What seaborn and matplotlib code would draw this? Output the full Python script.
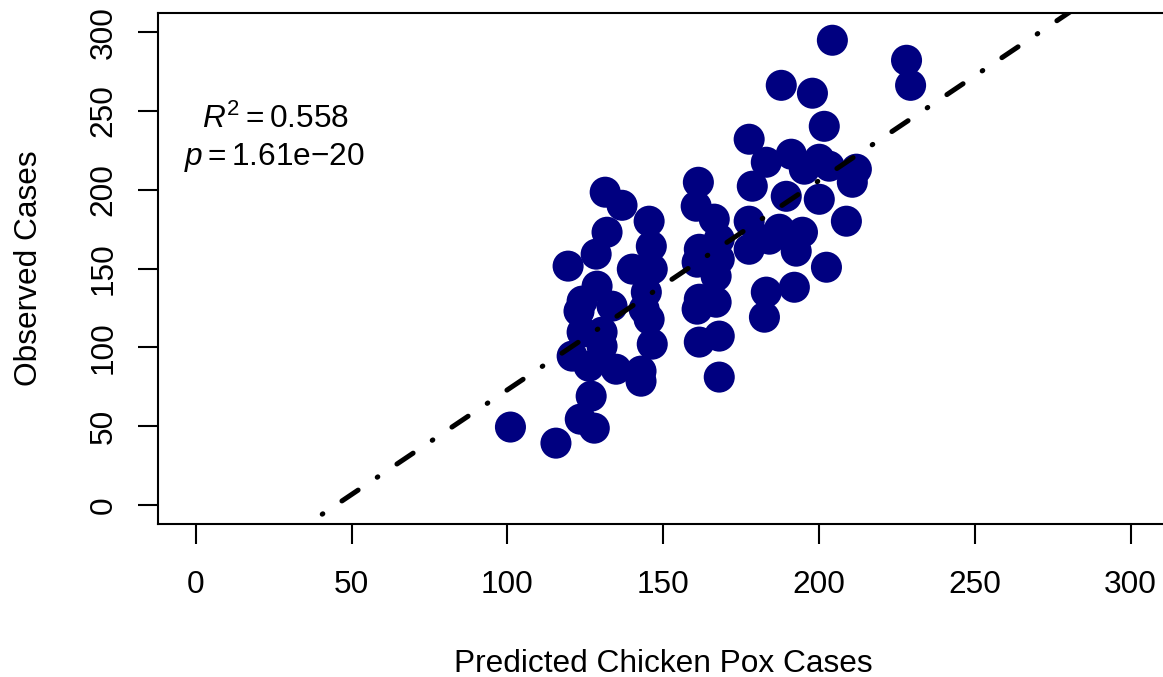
import numpy as np
import pandas as pd
import matplotlib
matplotlib.use("Agg")
import matplotlib.pyplot as plt
import seaborn as sns

# ---- data ----
predicted = [101.0, 115.6, 123.4, 127.9, 126.9,
             119.5, 128.5, 131.4, 136.8, 132.0,
             128.8, 124.0, 133.6, 124.0, 130.4, 120.8, 126.2, 134.9, 130.4, 123.0,
             145.5, 146.2, 140.1, 146.5, 144.6, 145.5, 146.5, 142.9, 142.9, 143.9,
             161.3, 160.6, 166.4, 161.6, 168.0, 168.0, 160.9, 167.0, 161.6, 167.0,
             160.9, 161.6, 168.0, 168.0,
             204.3, 228.1, 229.4, 187.9, 197.9, 201.7, 177.6, 183.1, 191.1, 200.1,
             203.3, 212.0, 210.7, 178.6, 189.5, 200.1, 208.8, 177.6, 184.1, 194.7,
             192.7, 177.6, 202.4, 192.1, 183.1, 182.5, 195.3, 187.3]
observed = [49.5, 39.3, 54.5, 48.8, 69.1,
            151.6, 159.2, 198.5, 190.2, 173.1,
            138.9, 129.4, 126.2, 109.7, 109.7, 94.5, 88.1, 86.2, 100.8, 123.0,
            180.1, 164.2, 149.7, 149.7, 135.1, 117.9, 102.1, 85.0, 78.6, 124.3,
            204.8, 189.6, 181.4, 162.3, 168.7, 156.0, 154.1, 145.2, 130.6, 128.7,
            124.3, 103.4, 107.2, 81.2,
            294.9, 282.2, 266.3, 266.3, 261.3, 240.3, 232.1, 217.5, 222.6, 219.4,
            215.0, 213.1, 204.8, 202.3, 195.9, 194.0, 180.1, 180.1, 168.7, 173.1,
            161.1, 162.3, 150.9, 138.2, 135.1, 119.2, 213.1, 175.0]
fit_intercept = -59.7
fit_slope = 1.328
r_squared = "0.558"
p_value = "1.61e{-}20"
x_ticks = [0, 50, 100, 150, 200, 250, 300]
y_ticks = [0, 50, 100, 150, 200, 250, 300]

df = pd.DataFrame({"Predicted": predicted, "Observed": observed})

sns.set_theme(style="white")
plt.rcParams['font.family'] = ['Liberation Sans', 'DejaVu Sans']
plt.rcParams['text.color'] = 'black'
plt.rcParams['axes.labelcolor'] = 'black'
plt.rcParams['mathtext.fontset'] = 'custom'
plt.rcParams['mathtext.rm'] = 'Liberation Sans'
plt.rcParams['mathtext.it'] = 'Liberation Sans:italic'
plt.rcParams['mathtext.bf'] = 'Liberation Sans:bold'

FS = 22.8

fig = plt.figure(figsize=(11.63, 6.77), dpi=100)
ax = fig.add_axes([158.3 / 1163, 1 - 524 / 677, (1168 - 158.3) / 1163, 510.7 / 677])

sns.scatterplot(data=df, x="Predicted", y="Observed", ax=ax, s=500,
                color="#000080", edgecolor="none", linewidth=0, zorder=2)

# fitted line
xl = np.array([40.6, 320.0])
yl = fit_intercept + fit_slope * xl
line, = ax.plot(xl, yl, color="black", lw=3.6, zorder=3,
                solid_capstyle="round", dash_capstyle="round")
line.set_dashes((0.15, 4.6, 3.9, 4.6))

ax.set_xlim(-12, 312)
ax.set_ylim(-12, 312)
ax.set_xticks(x_ticks)
ax.set_yticks(y_ticks)
ax.set_xticklabels([str(t) for t in x_ticks])
ax.set_yticklabels([str(t) for t in y_ticks], rotation=90, va="center")

for s in ax.spines.values():
    s.set_visible(True)
    s.set_color("black")
    s.set_linewidth(1.5)

ax.tick_params(axis="x", which="major", direction="out", length=14.4, width=1.5,
               colors="black", labelsize=FS, pad=19, bottom=True)
ax.tick_params(axis="y", which="major", direction="out", length=14.4, width=1.5,
               colors="black", labelsize=FS, pad=14, left=True)

ax.set_xlabel("Predicted Chicken Pox Cases", fontsize=FS, labelpad=35, color="black")
ax.set_ylabel("Observed Cases", fontsize=FS, labelpad=32, color="black")

ax.text(275 / 1163, 1 - 119.5 / 677, r"$R^2 = $" + r"$\mathrm{" + r_squared + "}$",
        transform=fig.transFigure, ha="center", va="center", fontsize=FS, color="black")
ax.text(274 / 1163, 1 - 157 / 677, r"$p = \mathrm{" + p_value + "}$",
        transform=fig.transFigure, ha="center", va="center", fontsize=FS, color="black")

fig.savefig("out.png", dpi=100)
